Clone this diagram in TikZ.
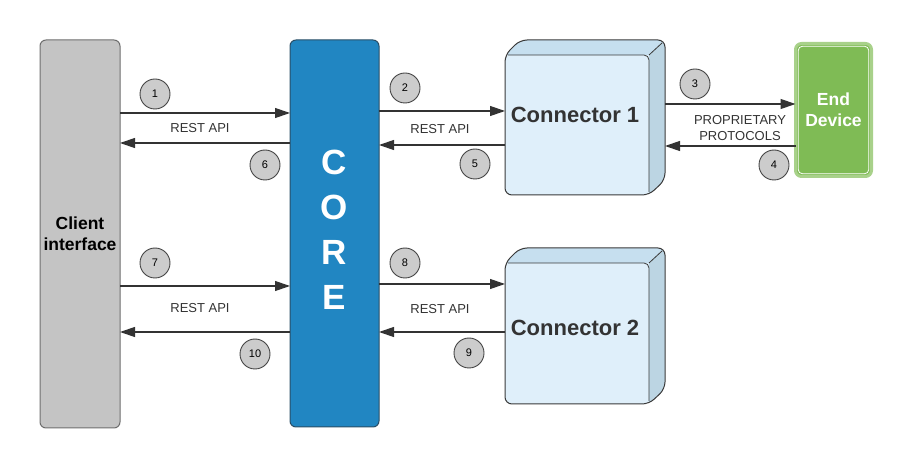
\documentclass[tikz,border=0pt]{standalone}
\usepackage{fontspec}
\setmainfont{Liberation Sans}
\usetikzlibrary{arrows.meta,calc}
\definecolor{clientfill}{HTML}{C4C4C4}
\definecolor{clientline}{HTML}{6E6E6E}
\definecolor{corefill}{HTML}{2186C2}
\definecolor{coreline}{HTML}{2A4E66}
\definecolor{cfront}{HTML}{DFEFFA}
\definecolor{ctop}{HTML}{C6DFEF}
\definecolor{cside}{HTML}{BCD5E3}
\definecolor{cline}{HTML}{3A3A3A}
\definecolor{devfill}{HTML}{7FBB55}
\definecolor{devline}{HTML}{A8D18A}
\definecolor{txt}{HTML}{333333}
\definecolor{numfill}{HTML}{CCCCCC}
\definecolor{numline}{HTML}{444444}
\newcommand\drawcube[1]{%
  \begin{scope}
    \clip[rounded corners=7pt] ($(#1.north west)+(0,15)$) -- ($(#1.north west)+(15,0)$) -- (#1.north east) -- ($(#1.south east)+(0,-15)$) -- ($(#1.south east)+(-16,0)$) -- (#1.south west) -- cycle;
    \fill[cfront] (#1.south west) rectangle ($(#1.north east)+(-16,15)$);
    \fill[ctop] ($(#1.north west)+(0,15)$) -- ($(#1.north west)+(15,0)$) -- (#1.north east) -- ($(#1.north east)+(-16,15)$) -- cycle;
    \fill[cside] ($(#1.north east)+(-16,15)$) -- (#1.north east) -- ($(#1.south east)+(0,-15)$) -- ($(#1.south east)+(-16,0)$) -- cycle;
  \end{scope}
  \draw[cline, line width=1pt, rounded corners=7pt] ($(#1.north west)+(0,15)$) -- ($(#1.north west)+(15,0)$) -- (#1.north east) -- ($(#1.south east)+(0,-15)$) -- ($(#1.south east)+(-16,0)$) -- (#1.south west) -- cycle;
  \draw[cline, line width=0.8pt, rounded corners=5pt] ($(#1.north west)+(3,15)$) -- ($(#1.north east)+(-16,15)$) -- ($(#1.south east)+(-16,-3)$);
  \draw[cline, line width=0.8pt] ($(#1.north east)+(-16,15)$) -- ($(#1.north east)+(-3,3)$);
}
\begin{document}
\begin{tikzpicture}[x=1pt,y=-1pt,
  box/.style={rectangle, rounded corners=6pt, inner sep=0pt, outer sep=0pt, line width=1pt},
  cube/.style={rectangle, inner sep=0pt, outer sep=0pt},
  arr/.style={draw=txt, line width=1.2pt, -{Triangle[length=15pt,width=10pt]}},
  num/.style={circle, draw=numline, fill=numfill, line width=0.9pt, minimum size=30pt, inner sep=0pt, font=\fontsize{11}{13}\selectfont},
  lab/.style={text=txt, font=\fontsize{13}{16}\selectfont, inner sep=0pt, align=center},
  conntxt/.style={text=txt, font=\bfseries\fontsize{22}{26}\selectfont, inner sep=0pt},
  ]
\useasboundingbox (0,0) rectangle (914,470);

% main blocks
\node[box, draw=clientline, fill=clientfill, minimum width=80pt, minimum height=388pt,
      font=\bfseries\fontsize{17.5}{21}\selectfont, align=center] (client) at (80,234) {Client\\interface};
\node[box, draw=coreline, fill=corefill, minimum width=89pt, minimum height=387pt] (core) at (334.5,233.5) {};
\node[text=white, font=\bfseries\fontsize{35}{45}\selectfont, align=center, inner sep=0pt] (coretext) at (334.5,229.5) {C\\O\\R\\E};

\node[cube, minimum width=160pt, minimum height=155pt] (conn1) at (585,117.5) {};
\drawcube{conn1}
\node[conntxt] (c1t) at (575,115) {Connector 1};
\node[cube, minimum width=160pt, minimum height=156pt] (conn2) at (585,326) {};
\drawcube{conn2}
\node[conntxt] (c2t) at (575,328) {Connector 2};

\node[box, fill=devfill, draw=devline, line width=3pt, minimum width=76pt, minimum height=133pt,
      text=white, font=\bfseries\fontsize{17.5}{21}\selectfont, align=center] (dev) at (833.5,110) {End\\Device};
\draw[white, line width=0.8pt, rounded corners=4pt] ($(dev.south west)+(2.8,-2.8)$) rectangle ($(dev.north east)+(-2.8,2.8)$);

% arrow levels
\coordinate (y1) at (0,113);
\coordinate (y6) at (0,143);
\coordinate (y2) at (0,111);
\coordinate (y5) at (0,145);
\coordinate (y3) at (0,104);
\coordinate (y4) at (0,146);
\coordinate (y7) at (0,286);
\coordinate (y10) at (0,332);
\coordinate (y8) at (0,284);
\coordinate (y9) at (0,332);

\draw[arr] (client.east |- y1) -- (core.west |- y1);
\draw[arr] (core.west |- y6) -- (client.east |- y6);
\draw[arr] (core.east |- y2) -- (conn1.west |- y2);
\draw[arr] (conn1.west |- y5) -- (core.east |- y5);
\draw[arr] (conn1.east |- y3) -- (dev.west |- y3);
\draw[arr] (dev.west |- y4) -- (conn1.east |- y4);
\draw[arr] (client.east |- y7) -- (core.west |- y7);
\draw[arr] (core.west |- y10) -- (client.east |- y10);
\draw[arr] (core.east |- y8) -- (conn2.west |- y8);
\draw[arr] (conn2.west |- y9) -- (core.east |- y9);

% labels
\node[lab] (l1) at (200,128) {REST API};
\node[lab] (l2) at (440,129) {REST API};
\node[lab] (l3) at (740,128) {PROPRIETARY\\PROTOCOLS};
\node[lab] (l4) at (200,308) {REST API};
\node[lab] (l5) at (440,309) {REST API};

% step numbers
\node[num] (n1) at (155,94) {1};
\node[num] (n2) at (405,88) {2};
\node[num] (n3) at (695,84) {3};
\node[num] (n4) at (774,165) {4};
\node[num] (n5) at (475,164) {5};
\node[num] (n6) at (265,165) {6};
\node[num] (n7) at (155,263) {7};
\node[num] (n8) at (405,263) {8};
\node[num] (n9) at (469,353) {9};
\node[num] (n10) at (255,354) {10};
\end{tikzpicture}
\end{document}
